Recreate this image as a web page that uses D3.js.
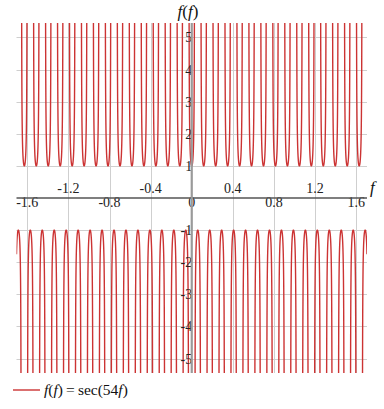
<!DOCTYPE html>
<html>
<head>
<meta charset="utf-8">
<script src="https://cdn.jsdelivr.net/npm/d3@7"></script>
<style>
  body { margin: 0; background: #fff; }
  svg { display: block; }
</style>
</head>
<body>
<div class="chart"></div>
<script>
// function shown: f(f) = sec(k * f)
var coef = 54;
var xDomain = [-1.705, 1.705];
var yDomain = [-5.45, 5.45];
var xTicks = [-1.6, -1.2, -0.8, -0.4, 0, 0.4, 0.8, 1.2, 1.6];
var yTicks = [-5, -4, -3, -2, -1, 1, 2, 3, 4, 5];
var xTickLabels = ["-1.6", "-1.2", "-0.8", "-0.4", "0", "0.4", "0.8", "1.2", "1.6"];
var yTickLabels = ["-5", "-4", "-3", "-2", "-1", "1", "2", "3", "4", "5"];

var width = 384, height = 409;
var serif = "'Liberation Serif', 'Times New Roman', serif";
var red = "#cc3333";

var svg = d3.select(".chart").append("svg")
    .attr("width", width)
    .attr("height", height);

var x = d3.scaleLinear().domain(xDomain).range([16.5, 367]);
var y = d3.scaleLinear().domain(yDomain).range([373, 23]);

svg.append("clipPath").attr("id", "plotclip")
    .append("rect")
    .attr("x", x(xDomain[0])).attr("y", y(yDomain[1]))
    .attr("width", x(xDomain[1]) - x(xDomain[0]))
    .attr("height", y(yDomain[0]) - y(yDomain[1]));

// grid
var grid = svg.append("g").attr("stroke", "#cfcfcf").attr("stroke-width", 1);
grid.selectAll("line.v").data(xTicks.filter(function(d) { return d !== 0; }))
    .enter().append("line")
    .attr("x1", function(d) { return Math.round(x(d)) + 0.5; })
    .attr("x2", function(d) { return Math.round(x(d)) + 0.5; })
    .attr("y1", y(yDomain[1])).attr("y2", y(yDomain[0]));
grid.selectAll("line.h").data(yTicks)
    .enter().append("line")
    .attr("y1", function(d) { return Math.round(y(d)) + 0.5; })
    .attr("y2", function(d) { return Math.round(y(d)) + 0.5; })
    .attr("x1", x(xDomain[0])).attr("x2", x(xDomain[1]));

// curve, sampled from the formula in the legend
var pts = d3.range(xDomain[0], xDomain[1] + 0.0001, 0.0002).map(function(f) {
    return { f: f, v: 1 / Math.cos(coef * f) };
});
var line = d3.line()
    .defined(function(d) { return Math.abs(d.v) < 14; })
    .x(function(d) { return x(d.f); })
    .y(function(d) { return y(d.v); });

svg.append("path")
    .datum(pts)
    .attr("clip-path", "url(#plotclip)")
    .attr("fill", "none")
    .attr("stroke", red)
    .attr("stroke-width", 1.4)
    .attr("d", line);

// tick labels
svg.append("g").selectAll("text").data(xTicks)
    .enter().append("text")
    .attr("x", function(d) { return x(d); })
    .attr("y", function(d, i) { return i % 2 === 0 ? 207 : 193; })
    .attr("text-anchor", "middle")
    .attr("font-family", serif)
    .attr("font-size", 14)
    .attr("fill", "#222")
    .text(function(d, i) { return xTickLabels[i]; });

svg.append("g").selectAll("text").data(yTicks)
    .enter().append("text")
    .attr("x", x(0) + 0.5)
    .attr("y", function(d) { return y(d) + 5; })
    .attr("text-anchor", "end")
    .attr("font-family", serif)
    .attr("font-size", 14)
    .attr("fill", "#222")
    .text(function(d, i) { return yTickLabels[i]; });

// axes
svg.append("line")
    .attr("x1", x(xDomain[0])).attr("x2", x(xDomain[1]))
    .attr("y1", y(0)).attr("y2", y(0))
    .attr("stroke", "#555").attr("stroke-width", 1.3);
svg.append("line")
    .attr("x1", x(0)).attr("x2", x(0))
    .attr("y1", y(yDomain[1])).attr("y2", y(yDomain[0]))
    .attr("stroke", "#9a9a9a").attr("stroke-width", 2.2);

// axis titles
var title = svg.append("text")
    .attr("x", 188).attr("y", 17)
    .attr("text-anchor", "middle")
    .attr("font-family", serif)
    .attr("font-size", 17)
    .attr("fill", "#111");
title.append("tspan").attr("font-style", "italic").text("f");
title.append("tspan").text("(");
title.append("tspan").attr("font-style", "italic").text("f");
title.append("tspan").text(")");

svg.append("text")
    .attr("x", 370).attr("y", 193)
    .attr("font-family", serif)
    .attr("font-style", "italic")
    .attr("font-size", 17)
    .attr("fill", "#111")
    .text("f");

// legend
svg.append("line")
    .attr("x1", 13).attr("x2", 40)
    .attr("y1", 390).attr("y2", 390)
    .attr("stroke", red).attr("stroke-width", 1.4);
var leg = svg.append("text")
    .attr("x", 44).attr("y", 395)
    .attr("font-family", serif)
    .attr("font-size", 15.5)
    .attr("fill", "#111");
leg.append("tspan").attr("font-style", "italic").text("f");
leg.append("tspan").text("(");
leg.append("tspan").attr("font-style", "italic").text("f");
leg.append("tspan").text(")\u2009=\u2009sec(54");
leg.append("tspan").attr("font-style", "italic").text("f");
leg.append("tspan").text(")");
</script>
</body>
</html>
